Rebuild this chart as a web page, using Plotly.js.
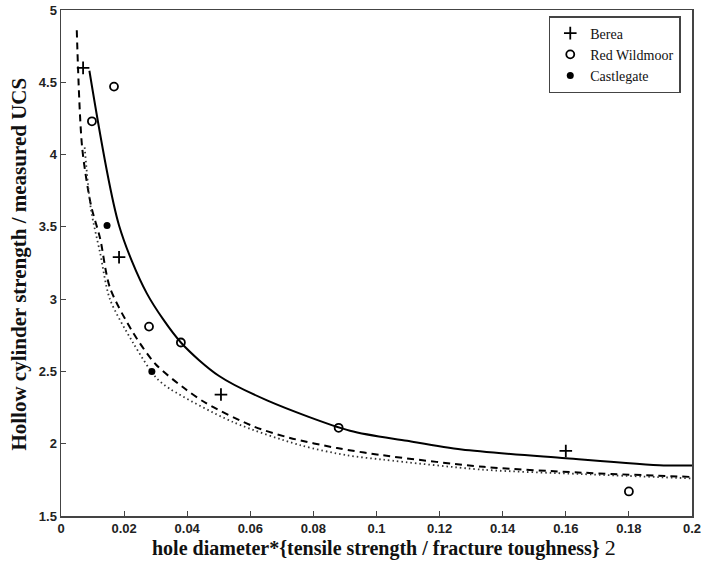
<!DOCTYPE html>
<html><head><meta charset="utf-8">
<script src="https://cdn.plot.ly/plotly-3.0.1.min.js"></script>
<style>body{margin:0;background:#fff}#c{width:705px;height:577px}</style>
</head><body><div id="c"></div>
<script>
// Measured points
const bereaX = [0.007, 0.0184, 0.0507, 0.160];
const bereaY = [4.60, 3.29, 2.34, 1.95];
const redX = [0.0098, 0.0168, 0.0279, 0.038, 0.088, 0.180];
const redY = [4.23, 4.47, 2.81, 2.70, 2.11, 1.67];
const castX = [0.0146, 0.0288];
const castY = [3.51, 2.50];
// Model curves
const solidX = [0.009, 0.0184, 0.0272, 0.038, 0.050, 0.0653, 0.0916, 0.1097, 0.127, 0.160, 0.191, 0.200];
const solidY = [4.58, 3.51, 3.04, 2.70, 2.47, 2.30, 2.09, 2.02, 1.96, 1.90, 1.85, 1.85];
const dashX = [0.005, 0.0067, 0.0095, 0.0124, 0.0155, 0.0228, 0.030, 0.0387, 0.046, 0.061, 0.0726, 0.0875, 0.102, 0.134, 0.165, 0.200];
const dashY = [4.86, 4.05, 3.65, 3.42, 3.08, 2.77, 2.55, 2.39, 2.28, 2.12, 2.04, 1.97, 1.92, 1.84, 1.80, 1.77];
const dotX = [0.0075, 0.0095, 0.0124, 0.0155, 0.0228, 0.030, 0.0345, 0.0545, 0.0758, 0.0906, 0.102, 0.134, 0.165, 0.200];
const dotY = [4.05, 3.62, 3.32, 3.00, 2.70, 2.46, 2.38, 2.15, 1.99, 1.92, 1.89, 1.82, 1.79, 1.76];
const xTicks = [0, 0.02, 0.04, 0.06, 0.08, 0.1, 0.12, 0.14, 0.16, 0.18, 0.2];
const xTickText = ['0','0.02','0.04','0.06','0.08','0.1','0.12','0.14','0.16','0.18','0.2'];
const yTicks = [1.5, 2, 2.5, 3, 3.5, 4, 4.5, 5];
const yTickText = ['1.5','2','2.5','3','3.5','4','4.5','5'];
const xTitle = '<b>hole diameter*{tensile strength / fracture toughness}</b> <span style="font-size:22px">2</span>';
const yTitle = '<b>Hollow cylinder strength / measured UCS</b>';

const traces = [
  {x: solidX, y: solidY, mode: 'lines', line: {color: '#000', width: 2, shape: 'spline', smoothing: 0.8}, showlegend: false, hoverinfo: 'skip'},
  {x: dashX, y: dashY, mode: 'lines', line: {color: '#000', width: 2, dash: '7px,5px', shape: 'spline', smoothing: 0.8}, showlegend: false, hoverinfo: 'skip'},
  {x: dotX, y: dotY, mode: 'lines', line: {color: '#333', width: 1.8, dash: '1.5px,3px', shape: 'spline', smoothing: 0.8}, showlegend: false, hoverinfo: 'skip'},
  {x: bereaX, y: bereaY, mode: 'markers', name: 'Berea', marker: {symbol: 'cross-thin', size: 9, line: {color: '#000', width: 1.8}}},
  {x: redX, y: redY, mode: 'markers', name: 'Red Wildmoor', marker: {symbol: 'circle-open', size: 8, color: '#000', line: {width: 1.8}}},
  {x: castX, y: castY, mode: 'markers', name: 'Castlegate', marker: {symbol: 'circle', size: 7, color: '#000'}}
];
const titleFont = {family: 'Liberation Serif, Times New Roman', size: 20, color: '#111'};
const layout = {
  width: 705, height: 577,
  margin: {l: 61, r: 13, t: 10, b: 61},
  paper_bgcolor: '#fff', plot_bgcolor: '#fff',
  xaxis: {
    range: [0, 0.2], tickvals: xTicks, ticktext: xTickText,
    ticks: 'inside', ticklen: 5, tickcolor: '#444', showgrid: false, zeroline: false,
    showline: true, linecolor: '#444', linewidth: 1.5, mirror: true,
    tickfont: {family: 'Liberation Sans, Arial', size: 13, color: '#222', weight: 'bold'}
  },
  yaxis: {
    range: [1.5, 5], tickvals: yTicks, ticktext: yTickText,
    ticks: 'inside', ticklen: 5, tickcolor: '#444', showgrid: false, zeroline: false,
    showline: true, linecolor: '#444', linewidth: 1.5, mirror: true,
    tickfont: {family: 'Liberation Sans, Arial', size: 13, color: '#222', weight: 'bold'}
  },
  annotations: [
    {text: xTitle, xref: 'paper', yref: 'paper', x: 0.512, y: -0.063, xanchor: 'center', yanchor: 'middle', showarrow: false, font: titleFont},
    {text: yTitle, xref: 'paper', yref: 'paper', x: -0.068, y: 0.497, xanchor: 'center', yanchor: 'middle', textangle: -90, showarrow: false, font: {family: 'Liberation Serif, Times New Roman', size: 21, color: '#111'}}
  ],
  legend: {
    x: 0.773, y: 0.988, xanchor: 'left', yanchor: 'top',
    bgcolor: '#fff', bordercolor: '#444', borderwidth: 1.5,
    font: {family: 'Liberation Serif, Times New Roman', size: 14, color: '#111'},
    itemwidth: 30, tracegroupgap: 0
  },
  showlegend: true
};
Plotly.newPlot('c', traces, layout, {displayModeBar: false, staticPlot: true});
</script>
</body></html>
